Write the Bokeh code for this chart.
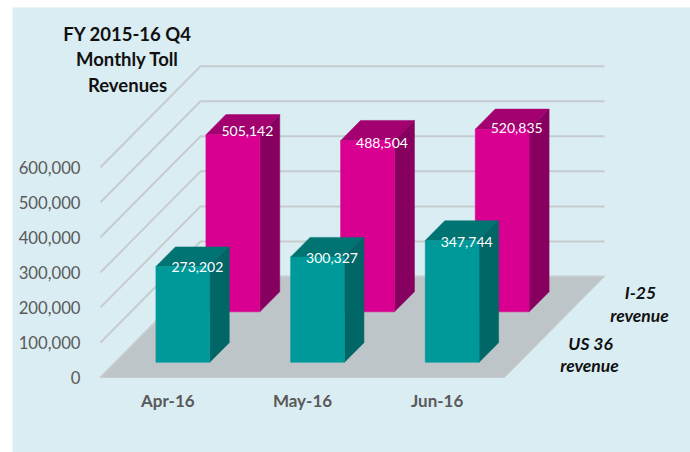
from bokeh.plotting import figure
from bokeh.models import FixedTicker, NumeralTickFormatter, Range1d, Label
from bokeh.core.properties import value
from bokeh.embed import file_html
from bokeh.resources import INLINE

months = ["Apr-16", "May-16", "Jun-16"]
us36_revenue = [273202, 300327, 347744]
i25_revenue = [505142, 488504, 520835]
y_ticks = [0, 100000, 200000, 300000, 400000, 500000, 600000]
title_lines = ["FY 2015-16 Q4", "Monthly Toll", "Revenues"]

PANEL = "#DAEDF3"
FONT = "Lato"

# page-pixel geometry of the projected box
LEFT, FLOOR, CAT_PX, PX_PER_UNIT = 100, 377, 134.67, 0.0003505
FIG_L, FIG_T, FIG_R, FIG_B = 12, 7, 690, 452
DEPTH_X = 100 / CAT_PX
DEPTH_Y = 101 / PX_PER_UNIT
HALF = 0.2
N = len(months)


def sx(px):
    return (px - LEFT) / CAT_PX


def sy(py):
    return (FLOOR - py) / PX_PER_UNIT


def proj(x, v, d):
    return x + d * DEPTH_X, v + d * DEPTH_Y


p = figure(width=FIG_R - FIG_L, height=FIG_B - FIG_T, output_backend="svg", toolbar_location=None,
           x_range=Range1d(sx(FIG_L), sx(FIG_R)), y_range=Range1d(sy(FIG_B), sy(FIG_T)),
           min_border=0, background_fill_color=PANEL, border_fill_color=PANEL,
           margin=(FIG_T, 0, 0, FIG_L))
p.outline_line_color = None
p.grid.visible = False

# axes sit inside the frame, at the front corner of the box
p.yaxis.fixed_location = 0
p.xaxis.fixed_location = 0
p.yaxis.ticker = FixedTicker(ticks=y_ticks)
p.yaxis.formatter = NumeralTickFormatter(format="0,0")
p.xaxis.ticker = FixedTicker(ticks=[i + 0.5 for i in range(N)])
p.xaxis.major_label_overrides = {i + 0.5: m for i, m in enumerate(months)}
for ax in (p.xaxis[0], p.yaxis[0]):
    ax.axis_line_color = None
    ax.major_tick_line_color = None
    ax.minor_tick_line_color = None
    ax.major_label_text_font = FONT
    ax.major_label_text_color = "#595959"
p.yaxis[0].major_label_text_font_size = "16.7px"
p.yaxis[0].major_label_standoff = 14
p.xaxis[0].major_label_text_font_size = "17px"
p.xaxis[0].major_label_text_font_style = "bold"
p.xaxis[0].major_label_standoff = 6

# floor
fx, fy = zip(*[proj(0, 0, 0), proj(N, 0, 0), proj(N, 0, 1), proj(0, 0, 1)])
p.patch(list(fx), list(fy), fill_color="#BEC5C8", line_color="#C8CDD0", line_width=1)

# gridlines on side and back walls
xs, ys = [], []
for t in y_ticks:
    a, b, c = proj(0, t, 0), proj(0, t, 1), proj(N, t, 1)
    xs.append([a[0], b[0], c[0]])
    ys.append([a[1], b[1], c[1]])
p.multi_line(xs, ys, line_color="#C6CBCE", line_width=2)


def bars(vals, d0, d1, front, top, side):
    for i, v in enumerate(vals):
        x0, x1 = i + 0.5 - HALF, i + 0.5 + HALF
        faces = [
            ([(x0, v, d0), (x1, v, d0), (x1, v, d1), (x0, v, d1)], top),
            ([(x1, 0, d0), (x1, 0, d1), (x1, v, d1), (x1, v, d0)], side),
            ([(x0, 0, d0), (x1, 0, d0), (x1, v, d0), (x0, v, d0)], front),
        ]
        for pts, col in faces:
            px, py = zip(*[proj(*q) for q in pts])
            p.patch(list(px), list(py), fill_color=col, line_color=col, line_width=0.5)
    return [(i + 0.5 + d0 * DEPTH_X, v + d0 * DEPTH_Y) for i, v in enumerate(vals)]


pos_i25 = bars(i25_revenue, 0.65, 0.85, "#D90091", "#A30070", "#870060")
pos_us36 = bars(us36_revenue, 0.15, 0.345, "#009999", "#007373", "#006666")

for vals, pos, dy in ((i25_revenue, pos_i25, [-4, 2, -1]), (us36_revenue, pos_us36, [0, 1, 2])):
    p.text([q[0] for q in pos], [q[1] for q in pos],
           text=[f"{v:,}" for v in vals], x_offset=14.5, y_offset=dy,
           text_align="center", text_baseline="middle", text_color="#FFFFFF",
           text_font=value(FONT), text_font_size="14px")


def label(txt, px, py, size, style, color):
    p.add_layout(Label(x=sx(px), y=sy(py), text=txt, text_align="center", text_baseline="middle",
                       text_font=FONT, text_font_size=size, text_font_style=style, text_color=color))


for txt, py in zip(title_lines, (33, 58, 84)):
    label(txt, 127, py, "18.5px", "bold", "#111111")
label("I-25", 640, 292, "17.5px", "bold italic", "#111111")
label("revenue", 639, 315, "17.5px", "bold italic", "#111111")
label("US 36", 590, 343, "17.5px", "bold italic", "#111111")
label("revenue", 589, 365, "17.5px", "bold italic", "#111111")

open("out.html", "w").write(file_html(p, INLINE))
